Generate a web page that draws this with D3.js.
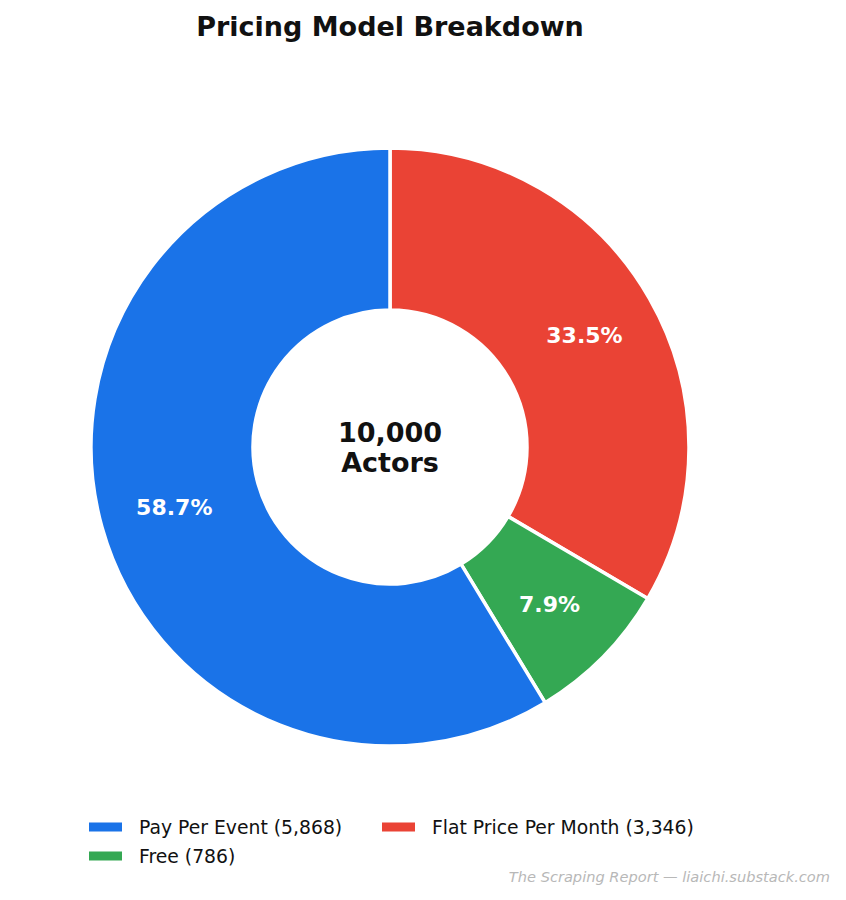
<!DOCTYPE html>
<html><head><meta charset="utf-8">
<script src="https://cdn.jsdelivr.net/npm/d3@7"></script>
<style>body{margin:0;background:#fff}svg{display:block}</style>
</head><body>
<svg id="c" width="846" height="900"></svg>
<script>
const categories = ["Flat Price Per Month", "Free", "Pay Per Event"];
const values = [3346, 786, 5868];
const colors = ["#ea4335", "#34a853", "#1a73e8"];
const legendOrder = ["Pay Per Event", "Free", "Flat Price Per Month"];
const title = "Pricing Model Breakdown";
const centerLines = ["10,000", "Actors"];
const credit = "The Scraping Report \u2014 liaichi.substack.com";

const svg = d3.select("#c");
const font = "DejaVu Sans, sans-serif";
const cx = 390, cy = 447, rOut = 299, rIn = 137;
const total = d3.sum(values);
const data = categories.map((c, i) => ({cat: c, value: values[i], color: colors[i]}));

svg.append("text").attr("x", 390).attr("y", 36).attr("text-anchor", "middle")
  .attr("font-family", font).attr("font-weight", "bold").attr("font-size", 27)
  .attr("fill", "#111").text(title);

const pie = d3.pie().value(d => d.value).sort(null);
const arcs = pie(data);
const arc = d3.arc().innerRadius(rIn).outerRadius(rOut);
const g = svg.append("g").attr("transform", `translate(${cx},${cy})`);
g.selectAll("path").data(arcs).join("path")
  .attr("d", arc).attr("fill", d => d.data.color)
  .attr("stroke", "#fff").attr("stroke-width", 3.5).attr("stroke-linejoin", "miter");

const lab = d3.arc().innerRadius(224).outerRadius(224);
g.selectAll("text.pct").data(arcs).join("text").attr("class", "pct")
  .attr("transform", d => `translate(${lab.centroid(d)})`)
  .attr("text-anchor", "middle").attr("dominant-baseline", "central")
  .attr("font-family", font).attr("font-weight", "bold").attr("font-size", 22)
  .attr("fill", "#fff").text(d => (d.data.value / total * 100).toFixed(1) + "%");

g.selectAll("text.ctr").data(centerLines).join("text").attr("class", "ctr")
  .attr("x", 0).attr("y", (d, i) => (i - 0.5) * 30)
  .attr("text-anchor", "middle").attr("dominant-baseline", "central")
  .attr("font-family", font).attr("font-weight", "bold").attr("font-size", 27)
  .attr("fill", "#111").text(d => d);

const legPos = [[89, 827], [89, 856], [382, 827]];
const fmt = d3.format(",");
legendOrder.forEach((name, i) => {
  const d = data.find(x => x.cat === name);
  const [x, y] = legPos[i];
  svg.append("rect").attr("x", x).attr("y", y - 4.5).attr("width", 33).attr("height", 9).attr("fill", d.color);
  svg.append("text").attr("x", x + 50).attr("y", y).attr("dominant-baseline", "central")
    .attr("font-family", font).attr("font-size", 18.8).attr("fill", "#111")
    .text(`${name} (${fmt(d.value)})`);
});

svg.append("text").attr("x", 830).attr("y", 882).attr("text-anchor", "end")
  .attr("font-family", font).attr("font-style", "italic").attr("font-size", 14.6)
  .attr("fill", "#b8b8b8").text(credit);
</script>
</body></html>
